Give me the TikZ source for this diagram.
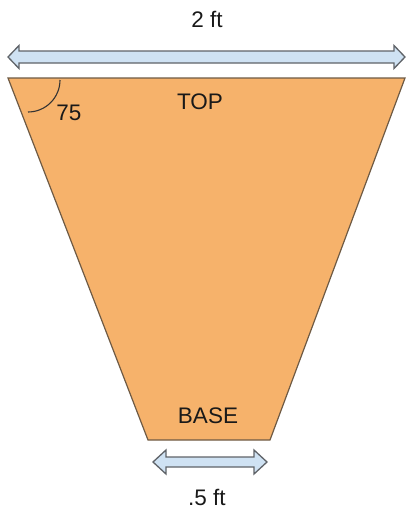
\documentclass[tikz,border=0pt]{standalone}
\usepackage{fontspec}
\setmainfont{Liberation Sans}
\definecolor{trapfill}{HTML}{F6B26B}
\definecolor{trapline}{HTML}{6E5A44}
\definecolor{arrfill}{HTML}{CFE2F3}
\definecolor{arrline}{HTML}{5F6368}
\begin{document}
\begin{tikzpicture}[x=1pt,y=-1pt,
  trap/.style={fill=trapfill,draw=trapline,line width=1.2pt,line join=miter},
  dimarrow/.style={fill=arrfill,draw=arrline,line width=1.3pt,line join=miter},
  lbl/.style={font=\fontsize{22.5}{26}\selectfont,inner sep=0pt,text=black!90}]
\useasboundingbox (0,0) rectangle (407,512);
% trapezoid
\draw[trap] (8,78) coordinate (tl) -- (405,78) coordinate (tr) -- (270,440) coordinate (br) -- (148,440) coordinate (bl) -- cycle;
% angle arc
\draw[line width=1.1pt,draw=black!80] (60,80) arc[start angle=0,end angle=90,radius=32];
% top double arrow
\draw[dimarrow] (8,57) -- (19,45.5) -- (19,51) -- (394,51) -- (394,45.5) -- (405,57)
  -- (394,68.5) -- (394,63) -- (19,63) -- (19,68.5) -- cycle;
% bottom double arrow
\draw[dimarrow] (153,462) -- (166,450) -- (166,457) -- (254,457) -- (254,450) -- (267,462)
  -- (254,474) -- (254,467) -- (166,467) -- (166,474) -- cycle;
% labels
\node[lbl] (top) at (207,19) {2 ft};
\node[lbl] (toplbl) at (200,102) {TOP};
\node[lbl] (ang) at (69,113) {75};
\node[lbl] (base) at (208,416) {BASE};
\node[lbl] (bot) at (207,497) {.5 ft};
\end{tikzpicture}
\end{document}
